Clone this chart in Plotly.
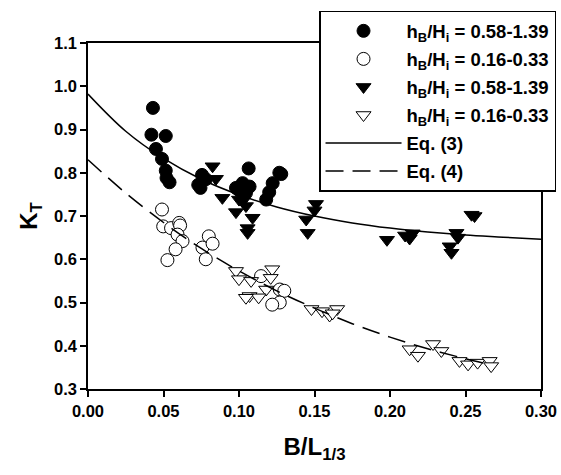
import plotly.graph_objects as go

# Filled circles: hB/Hi = 0.58-1.39
a_x = [0.043, 0.042, 0.0515, 0.045, 0.049, 0.0515, 0.052, 0.054, 0.0755, 0.073, 0.078, 0.0745,
       0.1064, 0.1267, 0.128, 0.1024, 0.098, 0.107, 0.1046, 0.1223, 0.120, 0.118, 0.100]
a_y = [0.950, 0.888, 0.885, 0.855, 0.832, 0.805, 0.788, 0.778, 0.795, 0.772, 0.785, 0.765,
       0.810, 0.800, 0.797, 0.776, 0.765, 0.768, 0.753, 0.776, 0.755, 0.738, 0.760]

# Open circles: hB/Hi = 0.16-0.33
b_x = [0.049, 0.0498, 0.055, 0.0604, 0.061, 0.0593, 0.0626, 0.058, 0.0526, 0.0758, 0.080,
       0.0825, 0.078, 0.1146, 0.127, 0.130, 0.127, 0.122]
b_y = [0.715, 0.676, 0.672, 0.684, 0.678, 0.657, 0.642, 0.623, 0.598, 0.627, 0.653,
       0.636, 0.600, 0.561, 0.530, 0.527, 0.500, 0.495]

# Filled triangles: hB/Hi = 0.58-1.39
c_x = [0.0825, 0.0847, 0.089, 0.098, 0.1024, 0.1046, 0.109, 0.1057, 0.1057, 0.100,
       0.151, 0.150, 0.1445, 0.1455, 0.198, 0.210, 0.213, 0.215,
       0.254, 0.256, 0.244, 0.2395, 0.2407, 0.245]
c_y = [0.815, 0.786, 0.742, 0.709, 0.734, 0.723, 0.696, 0.661, 0.672, 0.738,
       0.728, 0.713, 0.692, 0.661, 0.645, 0.655, 0.648, 0.660,
       0.703, 0.700, 0.661, 0.630, 0.615, 0.650]

# Open triangles: hB/Hi = 0.16-0.33
d_x = [0.098, 0.100, 0.108, 0.107, 0.122, 0.121, 0.118, 0.113, 0.1046,
       0.148, 0.155, 0.160, 0.165, 0.162,
       0.213, 0.2185, 0.2285, 0.234, 0.246, 0.2517, 0.258, 0.266, 0.267]
d_y = [0.573, 0.554, 0.550, 0.515, 0.577, 0.557, 0.530, 0.512, 0.511,
       0.485, 0.480, 0.470, 0.485, 0.475,
       0.392, 0.377, 0.404, 0.388, 0.365, 0.357, 0.361, 0.365, 0.353]

# Eq. (3) curve
eq3_x = [0, 0.025, 0.05, 0.075, 0.1, 0.125, 0.15, 0.175, 0.2, 0.225, 0.25, 0.275, 0.30]
eq3_y = [0.982, 0.896, 0.833, 0.785, 0.749, 0.721, 0.700, 0.684, 0.672, 0.663, 0.656, 0.651, 0.646]

# Eq. (4) curve
eq4_x = [0, 0.025, 0.05, 0.075, 0.1, 0.125, 0.15, 0.175, 0.2, 0.225, 0.25, 0.265]
eq4_y = [0.830, 0.753, 0.685, 0.625, 0.573, 0.527, 0.487, 0.451, 0.420, 0.393, 0.370, 0.357]

label_hi = "h<sub>B</sub>/H<sub>i</sub> = 0.58-1.39"
label_lo = "h<sub>B</sub>/H<sub>i</sub> = 0.16-0.33"

FONT = "Arial, Liberation Sans, sans-serif"
msize = 13

fig = go.Figure()
fig.add_trace(go.Scatter(x=a_x, y=a_y, mode="markers", name=label_hi, legendgroup="g1",
                         marker=dict(symbol="circle", size=msize, color="black",
                                     line=dict(color="black", width=1))))
fig.add_trace(go.Scatter(x=b_x, y=b_y, mode="markers", name=label_lo, legendgroup="g2",
                         marker=dict(symbol="circle", size=msize, color="white",
                                     line=dict(color="black", width=1))))
fig.add_trace(go.Scatter(x=c_x, y=c_y, mode="markers", name=label_hi, legendgroup="g3",
                         marker=dict(symbol="triangle-down", size=msize, color="black",
                                     line=dict(color="black", width=1))))
fig.add_trace(go.Scatter(x=d_x, y=d_y, mode="markers", name=label_lo, legendgroup="g4",
                         marker=dict(symbol="triangle-down", size=msize, color="white",
                                     line=dict(color="black", width=1))))
fig.add_trace(go.Scatter(x=eq3_x, y=eq3_y, mode="lines", name="Eq. (3)", legendgroup="g5",
                         line=dict(color="black", width=1.5, shape="spline")))
fig.add_trace(go.Scatter(x=eq4_x, y=eq4_y, mode="lines", name="Eq. (4)", legendgroup="g6",
                         line=dict(color="black", width=1.5, shape="spline", dash="18px,9px")))

axis_common = dict(showline=True, linecolor="black", linewidth=1.5, mirror=True,
                   ticks="outside", ticklen=6, tickwidth=1.5, tickcolor="black",
                   showgrid=False, zeroline=False,
                   tickfont=dict(family=FONT, size=16.5, color="black", weight="bold"))

fig.update_xaxes(range=[0, 0.30], dtick=0.05, tick0=0, tickformat=".2f",
                 title=dict(text="B/L<sub>1/3</sub>", font=dict(family=FONT, size=24, color="black", weight="bold"),
                            standoff=20),
                 **axis_common)
fig.update_yaxes(range=[0.3, 1.1], dtick=0.1, tick0=0.3, tickformat=".1f",
                 title=dict(text="K<sub>T</sub>", font=dict(family=FONT, size=24, color="black", weight="bold"),
                            standoff=10),
                 **axis_common)

fig.update_layout(
    width=561, height=475,
    margin=dict(l=88, r=20, t=43, b=86, autoexpand=False),
    paper_bgcolor="white", plot_bgcolor="white",
    showlegend=True,
    legend=dict(x=0.51, y=1.093, xanchor="left", yanchor="top",
                bgcolor="white", bordercolor="black", borderwidth=1.5,
                font=dict(family=FONT, size=18.5, color="black", weight="bold"),
                itemwidth=76, tracegroupgap=1),
)

fig.write_html("out.html", config={"displayModeBar": False},
               post_script="document.body.style.margin='0';")
